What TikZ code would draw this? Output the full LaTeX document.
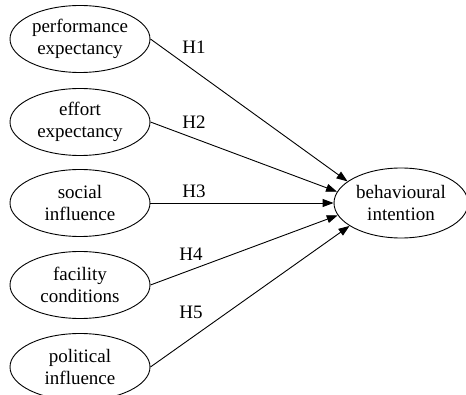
\documentclass[tikz,border=0pt]{standalone}
\usepackage{fontspec}
\setmainfont{Liberation Serif}
\usetikzlibrary{shapes.geometric,arrows.meta}
\begin{document}
\begin{tikzpicture}[x=1pt,y=-1pt,
  factor/.style={ellipse,draw,line width=0.9pt,minimum width=140pt,minimum height=67pt,
    inner sep=0pt,align=center,font=\fontsize{19}{22}\selectfont},
  outcome/.style={factor,minimum width=134pt,minimum height=70pt},
  path/.style={line width=0.9pt,-{Triangle[length=11pt,width=8pt]}},
  hlabel/.style={font=\fontsize{19}{22}\selectfont}]
  \clip (0,0) rectangle (466,395);
  \useasboundingbox (0,0) rectangle (466,395);
  % predictors
  \node[factor] (pe) at (80,39)  {performance\\expectancy};
  \node[factor] (ee) at (80,122) {effort\\expectancy};
  \node[factor] (si) at (80,203) {social\\influence};
  \node[factor] (fc) at (80,285) {facility\\conditions};
  \node[factor] (pi) at (80,367) {political\\influence};
  % outcome
  \node[outcome] (bi) at (401,203) {behavioural\\intention};
  % hypothesised paths
  \draw[path] (pe.east) -- (bi.158);
  \draw[path] (ee.east) -- (bi.170);
  \draw[path] (si.east) -- (bi.180);
  \draw[path] (fc.east) -- (bi.191);
  \draw[path] (pi.east) -- (bi.204);
  % path labels
  \node[hlabel] (h1) at (194,47)  {H1};
  \node[hlabel] (h2) at (194,122) {H2};
  \node[hlabel] (h3) at (194,191) {H3};
  \node[hlabel] (h4) at (191,254) {H4};
  \node[hlabel] (h5) at (191,312) {H5};
\end{tikzpicture}
\end{document}
